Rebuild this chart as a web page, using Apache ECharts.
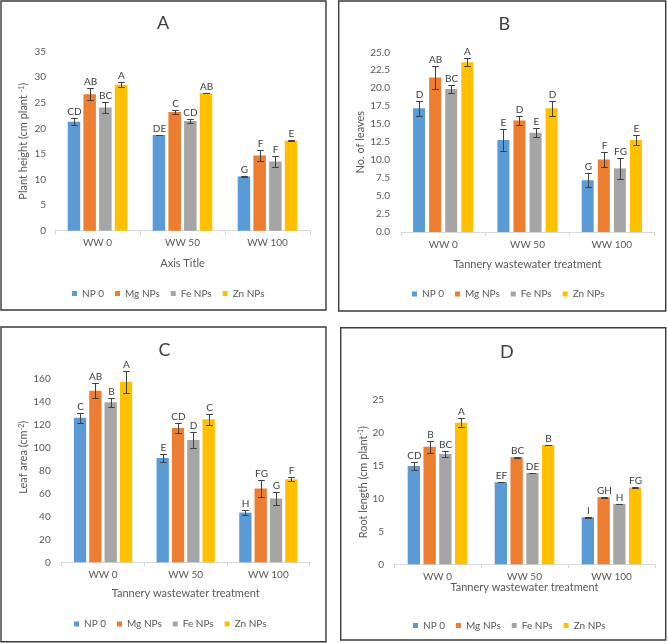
<!DOCTYPE html>
<html><head><meta charset="utf-8">
<script src="https://cdn.jsdelivr.net/npm/echarts@6/dist/echarts.min.js"></script>
<style>html,body{margin:0;padding:0;background:#fff}#c{width:668px;height:643px}</style>
</head><body><div id="c"></div>
<script>
// ---------- data ----------
const categories = ['WW 0', 'WW 50', 'WW 100'];
const treatments = ['NP 0', 'Mg NPs', 'Fe NPs', 'Zn NPs'];
const colors = ['#5B9BD5', '#ED7D31', '#A5A5A5', '#FFC000'];

// Panel A: plant height (rows: NP 0, Mg NPs, Fe NPs, Zn NPs; cols: WW 0, WW 50, WW 100)
const plantHeightMean = [[21.3, 18.7, 10.6], [26.7, 23.2, 14.7], [24.1, 21.45, 13.55], [28.55, 26.9, 17.6]];
const plantHeightErr  = [[0.7, 0.05, 0.05], [1.15, 0.4, 1.0], [1.15, 0.45, 1.0], [0.5, 0.05, 0.1]];
const plantHeightLetters = [['CD', 'DE', 'G'], ['AB', 'C', 'F'], ['BC', 'CD', 'F'], ['A', 'AB', 'E']];

// Panel B: number of leaves
const leavesMean = [[17.2, 12.8, 7.2], [21.5, 15.5, 10.1], [19.9, 13.8, 8.85], [23.6, 17.2, 12.8]];
const leavesErr  = [[1.0, 1.5, 1.0], [1.65, 0.6, 1.0], [0.6, 0.6, 1.5], [0.55, 1.0, 0.65]];
const leavesLetters = [['D', 'E', 'G'], ['AB', 'D', 'F'], ['BC', 'E', 'FG'], ['A', 'D', 'E']];

// Panel C: leaf area
const leafAreaMean = [[125.7, 90.7, 43.2], [149.2, 116.8, 64.1], [139.1, 106.4, 55.4], [157.0, 124.3, 72.2]];
const leafAreaErr  = [[4.2, 3.3, 2.2], [6.3, 4.3, 7.4], [4.2, 6.8, 5.8], [9.4, 4.6, 1.9]];
const leafAreaLetters = [['C', 'E', 'H'], ['AB', 'CD', 'FG'], ['B', 'D', 'G'], ['A', 'C', 'F']];

// Panel D: root length
const rootLengthMean = [[14.95, 12.5, 7.15], [17.9, 16.3, 10.2], [16.8, 13.9, 9.2], [21.55, 18.15, 11.7]];
const rootLengthErr  = [[0.6, 0.05, 0.05], [0.9, 0.05, 0.05], [0.45, 0.05, 0.05], [0.65, 0.05, 0.05]];
const rootLengthLetters = [['CD', 'EF', 'I'], ['B', 'BC', 'GH'], ['BC', 'DE', 'H'], ['A', 'B', 'FG']];

// ---------- layout ----------
const FONT = 'Lato';
const TXT = '#595959';
const panels = [
  { title: 'A', tx: 157, ty: 14, box: [1, 1, 326, 310],
    grid: { left: 55, top: 51.7, width: 255, height: 179 },
    max: 35, interval: 5, dec: 0, yName: 'Plant height (cm plant {sup|-1})', yGap: 26, yShift: 0, yMargin: 9,
    xName: 'Axis Title', xGap: 27, xMargin: 7, bw: 12.5, gap: 0.256, legendLeft: 72, legendTop: 288.5,
    mean: plantHeightMean, err: plantHeightErr, letters: plantHeightLetters },
  { title: 'B', tx: 498.5, ty: 15, box: [338.7, 1, 665.7, 311],
    grid: { left: 401, top: 52.3, width: 253, height: 179.7 },
    max: 25, interval: 2.5, dec: 1, yName: 'No. of leaves', yGap: 33, yShift: 0, yMargin: 11,
    xName: 'Tannery wastewater treatment', xGap: 26.5, xMargin: 8, bw: 12, gap: 0.34, legendLeft: 412, legendTop: 289,
    mean: leavesMean, err: leavesErr, letters: leavesLetters },
  { title: 'C', tx: 158.5, ty: 341, box: [1, 327, 326, 641.7],
    grid: { left: 61.7, top: 378.3, width: 248, height: 184 },
    max: 160, interval: 20, dec: 0, yName: 'Leaf area (cm{sup|-2})', yGap: 31, yShift: 26, yMargin: 11,
    xName: 'Tannery wastewater treatment', xGap: 26, xMargin: 7.5, bw: 12.3, gap: 0.246, legendLeft: 74, legendTop: 619,
    mean: leafAreaMean, err: leafAreaErr, letters: leafAreaLetters },
  { title: 'D', tx: 500, ty: 343, box: [340.7, 327.7, 665.7, 640],
    grid: { left: 394, top: 400, width: 261, height: 164.3 },
    max: 25, interval: 5, dec: 0, yName: 'Root length (cm plant{sup|-1})', yGap: 25, yShift: 0, yMargin: 10,
    xName: 'Tannery wastewater treatment', xGap: 14, xMargin: 7, bw: 12.3, gap: 0.282, legendLeft: 413, legendTop: 620.5,
    mean: rootLengthMean, err: rootLengthErr, letters: rootLengthLetters }
];

const option = {
  animation: false,
  backgroundColor: '#ffffff',
  textStyle: { fontFamily: FONT },
  title: [], grid: [], xAxis: [], yAxis: [], legend: [], series: [],
  graphic: []
};

function errRenderer(p, t) {
  const pitch = p.bw * (1 + p.gap);
  return function (params, api) {
    const ci = api.value(0), m = api.value(1), e = api.value(2);
    const c0 = api.coord([ci, m]);
    const ct = api.coord([ci, m + e]);
    const cb = api.coord([ci, m - e]);
    const x = Math.round(c0[0] + (t - 1.5) * pitch) + 0.5;
    const yt = Math.round(ct[1]) + 0.5, yb = Math.round(cb[1]) + 0.5;
    const cap = 3.3;
    const s = { stroke: '#404040', lineWidth: 1 };
    return {
      type: 'group',
      children: [
        { type: 'line', shape: { x1: x, y1: yt, x2: x, y2: yb }, style: s },
        { type: 'line', shape: { x1: x - cap, y1: yt, x2: x + cap, y2: yt }, style: s },
        { type: 'line', shape: { x1: x - cap, y1: yb, x2: x + cap, y2: yb }, style: s },
        { type: 'text', x: x, y: yt - 1.5,
          style: { text: p.letters[t][params.dataIndex], fill: '#404040', fontSize: 10, fontFamily: FONT,
                   align: 'center', verticalAlign: 'bottom' } }
      ]
    };
  };
}

panels.forEach(function (p, k) {
  const b = p.box;
  option.graphic.push({ type: 'rect', silent: true, z: -10,
    shape: { x: b[0], y: b[1], width: b[2] - b[0], height: b[3] - b[1] },
    style: { fill: 'none', stroke: '#3a3a3a', lineWidth: 1.4 } });
  option.title.push({ text: p.title, left: p.tx, top: p.ty, padding: 0,
    textStyle: { fontSize: 18, fontWeight: 'normal', color: '#404040', fontFamily: FONT } });
  option.grid.push(Object.assign({ containLabel: false, outerBoundsMode: 'none' }, p.grid));
  option.xAxis.push({ type: 'category', gridIndex: k, data: categories,
    axisLine: { lineStyle: { color: '#D9D9D9', width: 1 } },
    axisTick: { show: true, length: 4, lineStyle: { color: '#D9D9D9' } },
    axisLabel: { color: TXT, fontSize: 10, margin: p.xMargin, fontFamily: FONT },
    name: p.xName, nameLocation: 'middle', nameGap: p.xGap,
    nameTextStyle: { color: TXT, fontSize: 11, fontFamily: FONT } });
  option.yAxis.push({ type: 'value', gridIndex: k, min: 0, max: p.max, interval: p.interval,
    axisLine: { show: false }, axisTick: { show: false }, splitLine: { show: false },
    axisLabel: { color: TXT, fontSize: 10, margin: p.yMargin, fontFamily: FONT,
      formatter: function (v) { return v.toFixed(p.dec); } },
    name: p.yName, nameLocation: 'middle', nameGap: p.yGap,
    nameTextStyle: { color: TXT, fontSize: 11, fontFamily: FONT, padding: [0, 0, 0, p.yShift],
      rich: { sup: { fontSize: 7, color: TXT, fontFamily: FONT, verticalAlign: 'top', lineHeight: 8 } } } });
  option.legend.push({ data: treatments, left: p.legendLeft, top: p.legendTop, padding: 0,
    itemWidth: 5, itemHeight: 5, itemGap: 11, icon: 'rect',
    textStyle: { color: TXT, fontSize: 10, fontFamily: FONT } });
  treatments.forEach(function (name, t) {
    option.series.push({ type: 'bar', name: name, xAxisIndex: k, yAxisIndex: k,
      data: p.mean[t], barWidth: p.bw, barGap: (p.gap * 100) + '%',
      itemStyle: { color: colors[t] }, z: 2 });
  });
  treatments.forEach(function (name, t) {
    option.series.push({ type: 'custom', name: 'err-' + k + '-' + t, xAxisIndex: k, yAxisIndex: k,
      renderItem: errRenderer(p, t), z: 5,
      encode: { x: 0, y: 1 },
      data: categories.map(function (c, i) { return [i, p.mean[t][i], p.err[t][i]]; }) });
  });
});

const chart = echarts.init(document.getElementById('c'), null, { renderer: 'canvas' });
chart.setOption(option);
</script>
</body></html>
